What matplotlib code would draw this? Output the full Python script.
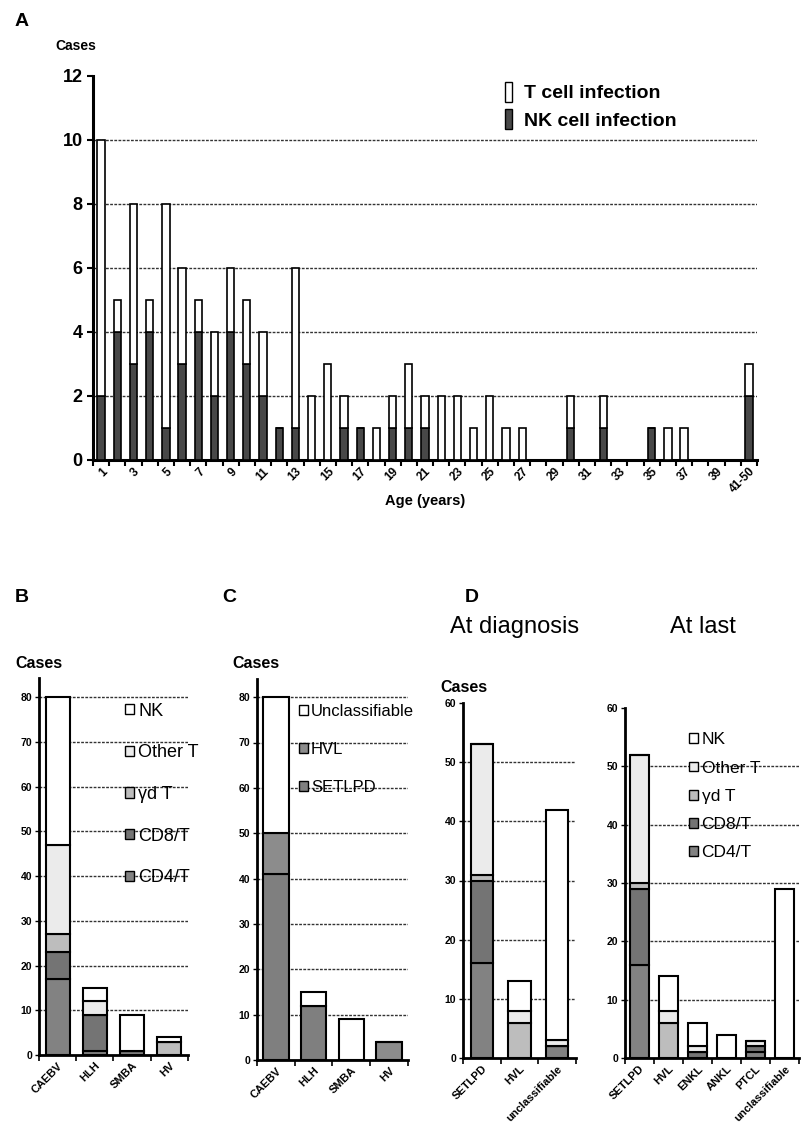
import numpy as np
import matplotlib
matplotlib.use('Agg')
import matplotlib.pyplot as plt
from matplotlib.patches import Patch

plt.rcParams['font.family'] = ['Liberation Sans', 'DejaVu Sans']

W, H = 803, 1134

# ---- Panel A data: cases by age ----
age_labels = [str(i) for i in range(1, 41)] + ['41-50']
nk_cases = [2, 4, 3, 4, 1, 3, 4, 2, 4, 3, 2, 1, 1, 0, 0, 1, 1, 0, 1, 1,
            1, 0, 0, 0, 0, 0, 0, 0, 0, 1, 0, 1, 0, 0, 1, 0, 0, 0, 0, 0, 2]
t_cases = [8, 1, 5, 1, 7, 3, 1, 2, 2, 2, 2, 0, 5, 2, 3, 1, 0, 1, 1, 2,
           1, 2, 2, 1, 2, 1, 1, 0, 0, 1, 0, 1, 0, 0, 0, 1, 1, 0, 0, 0, 1]

# ---- Panel B: cell type by disease ----
b_cats = ['CAEBV', 'HLH', 'SMBA', 'HV']
b_cd4 = [17, 1, 1, 0]
b_cd8 = [6, 8, 0, 0]
b_gd = [4, 0, 0, 3]
b_other = [20, 3, 0, 0]
b_nk = [33, 3, 8, 1]

# ---- Panel C: pathology by disease ----
c_cats = ['CAEBV', 'HLH', 'SMBA', 'HV']
c_setlpd = [41, 12, 0, 0]
c_hvl = [9, 0, 0, 4]
c_uncl = [30, 3, 9, 0]

# ---- Panel D: at diagnosis / at last ----
d1_cats = ['SETLPD', 'HVL', 'unclassifiable']
d1_cd4 = [16, 0, 2]
d1_cd8 = [14, 0, 0]
d1_gd = [1, 6, 0]
d1_other = [22, 2, 1]
d1_nk = [0, 5, 39]

d2_cats = ['SETLPD', 'HVL', 'ENKL', 'ANKL', 'PTCL', 'unclassifiable']
d2_cd4 = [16, 0, 0, 0, 1, 0]
d2_cd8 = [13, 0, 1, 0, 1, 0]
d2_gd = [1, 6, 0, 0, 0, 0]
d2_other = [22, 2, 1, 0, 1, 0]
d2_nk = [0, 6, 4, 4, 0, 29]

cell_names = ['CD4/T', 'CD8/T', 'γd T', 'Other T', 'NK']
cell_colors = ['#828282', '#747474', '#bdbdbd', '#ebebeb', '#ffffff']
path_names = ['SETLPD', 'HVL', 'Unclassifiable']
path_colors = ['#7f7f7f', '#8c8c8c', '#ffffff']

grid_kw = dict(color='#333333', linestyle=(0, (2, 1)), linewidth=1.0)


def px_axes(left, right, top, bottom):
    return fig.add_axes([left / W, 1 - bottom / H, (right - left) / W, (bottom - top) / H])


def style_small(ax, cats, ytop, yticks):
    ax.set_xlim(-0.5, len(cats) - 0.5)
    ax.set_ylim(0, ytop)
    ax.set_yticks(yticks)
    ax.set_yticklabels([str(v) for v in yticks], fontsize=7.5, fontweight='bold')
    ax.set_xticks(np.arange(len(cats)))
    ax.set_xticklabels(cats, rotation=45, ha='right', rotation_mode='anchor',
                       fontsize=8, fontweight='bold')
    ax.tick_params(axis='x', length=0, pad=4)
    ax.set_xticks(np.arange(len(cats) + 1) - 0.5, minor=True)
    ax.tick_params(axis='x', which='minor', length=4, width=1.2, direction='out')
    ax.tick_params(axis='y', length=3, width=1.0, pad=2)
    for s in ['top', 'right']:
        ax.spines[s].set_visible(False)
    for s in ['left', 'bottom']:
        ax.spines[s].set_linewidth(2.0)
    for g in yticks[1:]:
        ax.axhline(g, zorder=0, **grid_kw)


def stacked(ax, series, colors, width):
    x = np.arange(len(series[0]))
    bottom = np.zeros(len(x))
    for vals, col in zip(series, colors):
        ax.bar(x, vals, width, bottom=bottom, color=col, edgecolor='black',
               linewidth=1.5, zorder=3)
        bottom += np.array(vals)


def small_legend(ax, handles, anchor, spacing, size):
    ax.legend(handles=handles, loc='upper left', bbox_to_anchor=anchor, frameon=False,
              handlelength=0.5, handleheight=0.5, handletextpad=0.2,
              labelspacing=spacing, borderpad=0, borderaxespad=0, prop={'size': size})


fig = plt.figure(figsize=(W / 100, H / 100), dpi=100)

# ================= Panel A =================
axA = px_axes(93, 757, 76, 460)
xa = np.arange(1, len(age_labels) + 1)
axA.bar(xa, nk_cases, 0.45, color='#484848', edgecolor='black', linewidth=1.2,
        zorder=3, label='NK cell infection')
axA.bar(xa, t_cases, 0.45, bottom=nk_cases, color='white', edgecolor='black',
        linewidth=1.2, zorder=3, label='T cell infection')
axA.set_xlim(0.5, len(age_labels) + 0.5)
axA.set_ylim(0, 12)
axA.set_yticks(range(0, 13, 2))
axA.set_yticklabels([str(v) for v in range(0, 13, 2)], fontsize=13, fontweight='bold')
for g in range(2, 12, 2):
    axA.axhline(g, zorder=0, **grid_kw)
label_pos = list(range(1, 41, 2)) + [41]
axA.set_xticks(label_pos)
axA.set_xticklabels([age_labels[i - 1] for i in label_pos], rotation=45, ha='right',
                    rotation_mode='anchor', fontsize=8.5, fontweight='bold')
axA.tick_params(axis='x', length=0, pad=4)
axA.set_xticks(np.arange(len(age_labels) + 1) + 0.5, minor=True)
axA.tick_params(axis='x', which='minor', length=4, width=1.5, direction='out')
axA.tick_params(axis='y', length=4, width=1.5)
for s in ['top', 'right']:
    axA.spines[s].set_visible(False)
for s in ['left', 'bottom']:
    axA.spines[s].set_linewidth(2.2)
axA.set_xlabel('Age (years)', fontsize=10.5, fontweight='bold', labelpad=-1)
handlesA = [Patch(facecolor='white', edgecolor='black', label='T cell infection'),
            Patch(facecolor='#484848', edgecolor='black', label='NK cell infection')]
axA.legend(handles=handlesA, loc='upper left', bbox_to_anchor=(0.62, 0.985),
           frameon=False, handlelength=0.4, handleheight=1.2,
           handletextpad=0.6, labelspacing=0.35, borderpad=0, borderaxespad=0,
           prop={'size': 14, 'weight': 'bold'})

fig.text(15 / W, 1 - 22 / H, 'A', fontsize=14, fontweight='bold', va='center')
fig.text(55 / W, 1 - 46 / H, 'Cases', fontsize=10, fontweight='bold', va='center')

# ================= Panel B =================
axB = px_axes(39, 188, 678, 1055)
stacked(axB, [b_cd4, b_cd8, b_gd, b_other, b_nk], cell_colors, 0.65)
style_small(axB, b_cats, 84.3, list(range(0, 81, 10)))
hB = [Patch(facecolor=c, edgecolor='black', label=n)
      for n, c in zip(cell_names[::-1], cell_colors[::-1])]
small_legend(axB, hB, (0.58, 0.935), 1.37, 13)

fig.text(15 / W, 1 - 598 / H, 'B', fontsize=14, fontweight='bold', va='center')
fig.text(15 / W, 1 - 663 / H, 'Cases', fontsize=11.5, fontweight='bold', va='center')

# ================= Panel C =================
axC = px_axes(257, 408, 679, 1060)
stacked(axC, [c_setlpd, c_hvl, c_uncl], path_colors, 0.68)
style_small(axC, c_cats, 84, list(range(0, 81, 10)))
hC = [Patch(facecolor=c, edgecolor='black', label=n)
      for n, c in zip(path_names[::-1], path_colors[::-1])]
small_legend(axC, hC, (0.28, 0.935), 1.38, 12)

fig.text(222 / W, 1 - 598 / H, 'C', fontsize=14, fontweight='bold', va='center')
fig.text(232 / W, 1 - 663 / H, 'Cases', fontsize=11.5, fontweight='bold', va='center')

# ================= Panel D =================
axD1 = px_axes(463, 576, 703, 1058)
stacked(axD1, [d1_cd4, d1_cd8, d1_gd, d1_other, d1_nk], cell_colors, 0.6)
style_small(axD1, d1_cats, 60, list(range(0, 61, 10)))
axD1.lines[-1].set_visible(False)

axD2 = px_axes(625, 799, 708, 1058)
stacked(axD2, [d2_cd4, d2_cd8, d2_gd, d2_other, d2_nk], cell_colors, 0.67)
style_small(axD2, d2_cats, 60, list(range(0, 61, 10)))
axD2.lines[-1].set_visible(False)
small_legend(axD2, hB, (0.37, 0.93), 0.76, 12.5)

fig.text(465 / W, 1 - 598 / H, 'D', fontsize=14, fontweight='bold', va='center')
fig.text(515 / W, 1 - 627 / H, 'At diagnosis', fontsize=17, ha='center', va='center')
fig.text(703 / W, 1 - 627 / H, 'At last', fontsize=17, ha='center', va='center')
fig.text(440 / W, 1 - 687 / H, 'Cases', fontsize=11.5, fontweight='bold', va='center')

fig.savefig('out.png', dpi=100)
